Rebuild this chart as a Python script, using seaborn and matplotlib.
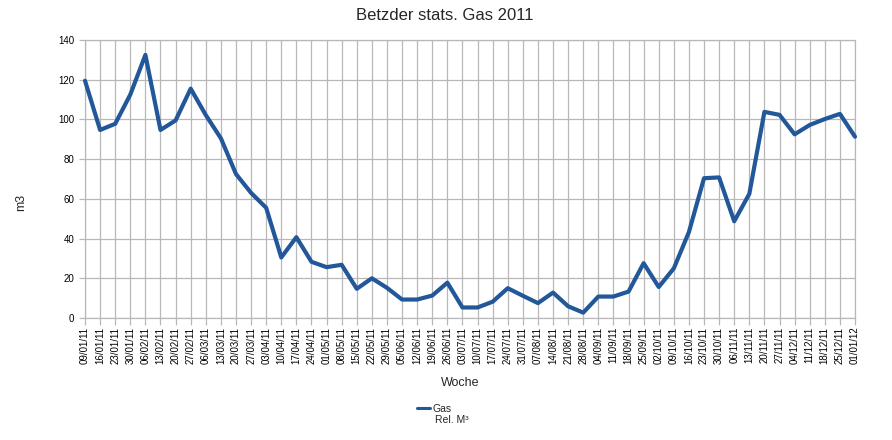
import matplotlib
matplotlib.use("Agg")
import matplotlib.pyplot as plt
import seaborn as sns
import pandas as pd

weeks = ["09/01/11", "16/01/11", "23/01/11", "30/01/11", "06/02/11", "13/02/11", "20/02/11",
         "27/02/11", "06/03/11", "13/03/11", "20/03/11", "27/03/11", "03/04/11", "10/04/11",
         "17/04/11", "24/04/11", "01/05/11", "08/05/11", "15/05/11", "22/05/11", "29/05/11",
         "05/06/11", "12/06/11", "19/06/11", "26/06/11", "03/07/11", "10/07/11", "17/07/11",
         "24/07/11", "31/07/11", "07/08/11", "14/08/11", "21/08/11", "28/08/11", "04/09/11",
         "11/09/11", "18/09/11", "25/09/11", "02/10/11", "09/10/11", "16/10/11", "23/10/11",
         "30/10/11", "06/11/11", "13/11/11", "20/11/11", "27/11/11", "04/12/11", "11/12/11",
         "18/12/11", "25/12/11", "01/01/12"]

gas = [119.5, 94.7, 97.8, 112.5, 132.5, 94.7, 99.5, 115.5, 102.2, 90.5, 72.5, 63, 55.5,
       30.5, 40.7, 28.3, 25.6, 26.8, 14.7, 20, 15.2, 9.3, 9.3, 11.3, 17.8, 5.3, 5.3, 8.2,
       15, 11.2, 7.5, 12.8, 5.9, 2.7, 10.8, 10.8, 13.3, 27.6, 15.6, 25, 43.3, 70.4, 70.8,
       48.7, 62.5, 103.8, 102.3, 92.5, 97.2, 100.2, 102.8, 91.3]

series_name = "Gas"
series_unit = "Rel. M³"
title = "Betzder stats. Gas 2011"
x_label = "Woche"
y_label = "m3"
y_ticks = [0, 20, 40, 60, 80, 100, 120, 140]

sns.set_style("white")
plt.rcParams["font.family"] = ["Liberation Sans", "DejaVu Sans"]

df = pd.DataFrame({"pos": list(range(len(weeks))), "week": weeks, "value": gas})

W, H = 892, 440
fig = plt.figure(figsize=(W / 100, H / 100), dpi=100)
ax = fig.add_axes([85 / W, 1 - 318 / H, 770 / W, 278 / H])

grid_c = "#b8b8b8"
line_c = "#22579a"

sns.lineplot(data=df, x="pos", y="value", ax=ax, color=line_c, linewidth=3.0,
             label=series_name, legend=False, clip_on=False, zorder=3)

ax.set_xlim(0, len(weeks) - 1)
ax.set_ylim(0, 140)
ax.set_xticks(df["pos"])
ax.set_xticklabels(weeks, rotation=90, fontsize=7)
ax.set_yticks(y_ticks)
ax.set_yticklabels([str(v) for v in y_ticks], fontsize=7)

ax.grid(True, color=grid_c, linewidth=0.9)
ax.set_axisbelow(True)
for s in ax.spines.values():
    s.set_color(grid_c)
    s.set_linewidth(0.9)
ax.tick_params(axis="x", direction="out", length=5, width=0.9, color=grid_c, pad=1.2,
               labelcolor="#000000")
ax.tick_params(axis="y", direction="out", length=4.3, width=0.9, color=grid_c, pad=3.5,
               labelcolor="#000000")
ax.tick_params(bottom=True, left=True)

ax.set_xlabel(x_label, fontsize=9, va="center")
ax.xaxis.set_label_coords((460 - 85) / 770, (318 - 383) / 278)
ax.set_ylabel(y_label, fontsize=9, va="center", rotation=90)
ax.yaxis.set_label_coords((21 - 85) / 770, (318 - 202) / 278)

fig.suptitle(title, x=445 / W, y=1 - 15 / H, va="center", fontsize=12)

handles, labels = ax.get_legend_handles_labels()
leg = fig.legend(handles, labels, loc="center left", bbox_to_anchor=(417 / W, 1 - 408.5 / H),
                 frameon=False, fontsize=7.5, handlelength=1.2, handletextpad=0.25,
                 borderpad=0, borderaxespad=0)
for ln in leg.get_lines():
    ln.set_linewidth(2.2)
fig.text(435 / W, 1 - 420 / H, series_unit, fontsize=7.5, va="center", ha="left")

fig.savefig("out.png", dpi=100)
